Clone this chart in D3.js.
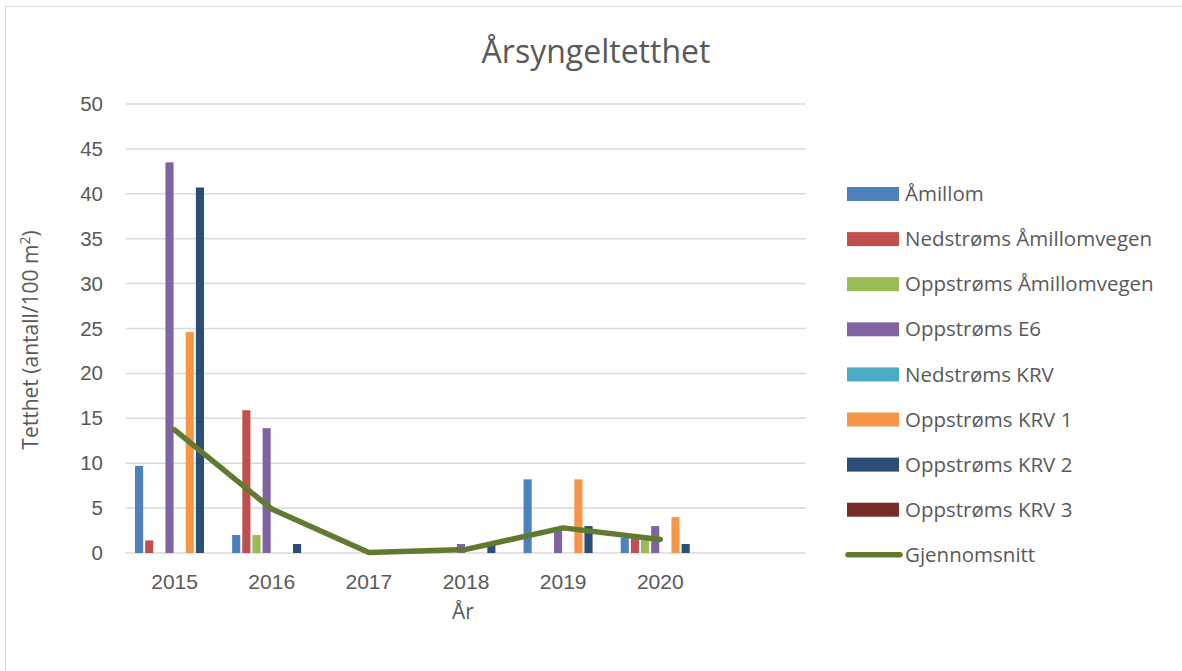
<!DOCTYPE html>
<html>
<head>
<meta charset="utf-8">
<script src="https://cdn.jsdelivr.net/npm/d3@7"></script>
<style>
  body { margin: 0; background: #fff; }
  svg { font-family: "Open Sans", "Noto Sans", sans-serif; }
</style>
</head>
<body>
<div id="chart"></div>
<script>
// categories (the last one is empty in the original chart)
var years = ["2015", "2016", "2017", "2018", "2019", "2020", ""];
var seriesNames = ["Åmillom", "Nedstrøms Åmillomvegen", "Oppstrøms Åmillomvegen", "Oppstrøms E6",
  "Nedstrøms KRV", "Oppstrøms KRV 1", "Oppstrøms KRV 2", "Oppstrøms KRV 3"];
var seriesColors = ["#4f81bd", "#c0504d", "#9bbb59", "#8064a2", "#4bacc6", "#f79646", "#2c4d75", "#772c2a"];

// values per series, one per year 2015..2020
var amillom      = [9.7, 2.0, 0, 0, 8.2, 1.7];
var nedAmVeg     = [1.4, 15.9, 0, 0, 0, 1.7];
var oppAmVeg     = [0, 2.0, 0, 0, 0, 1.7];
var oppE6        = [43.5, 13.9, 0, 1.0, 2.6, 3.0];
var nedKRV       = [0, 0, 0, 0, 0, 0];
var oppKRV1      = [24.6, 0, 0, 0, 8.2, 4.0];
var oppKRV2      = [40.7, 1.0, 0, 1.0, 3.0, 1.0];
var oppKRV3      = [0, 0, 0, 0, 0, 0];
var gjennomsnitt = [13.7, 4.9, 0.05, 0.4, 2.8, 1.5];

var yTicks = [0, 5, 10, 15, 20, 25, 30, 35, 40, 45, 50];

var allSeries = [amillom, nedAmVeg, oppAmVeg, oppE6, nedKRV, oppKRV1, oppKRV2, oppKRV3];
var textColor = "#595959";

var W = 1182, H = 671;
var svg = d3.select("#chart").append("svg").attr("width", W).attr("height", H);

// outer chart border
svg.append("rect").attr("x", 5.5).attr("y", 6.5).attr("width", W).attr("height", H)
  .attr("fill", "none").attr("stroke", "#d9d9d9").attr("stroke-width", 1);

var x = d3.scaleBand().domain(years).range([126, 806]).padding(0);
var xInner = d3.scaleBand().domain(d3.range(8)).range([9, x.bandwidth() - 9]).paddingInner(0.2);
var y = d3.scaleLinear().domain([0, 50]).range([553, 104]);

// gridlines
svg.append("g").selectAll("line").data(yTicks).join("line")
  .attr("x1", 126).attr("x2", 806)
  .attr("y1", function(d) { return y(d); }).attr("y2", function(d) { return y(d); })
  .attr("stroke", "#d9d9d9").attr("stroke-width", 1.5);

// y axis
var yAxis = svg.append("g").attr("transform", "translate(126,0)")
  .call(d3.axisLeft(y).tickValues(yTicks).tickSize(0).tickPadding(23));
yAxis.select(".domain").remove();
yAxis.selectAll("text").attr("fill", textColor).style("font-size", "20.5px");

// x axis
var xAxis = svg.append("g").attr("transform", "translate(0,553)")
  .call(d3.axisBottom(x).tickSize(0).tickPadding(21));
xAxis.select(".domain").remove();
xAxis.selectAll("text").attr("fill", textColor).style("font-size", "21px");

// bars
allSeries.forEach(function(vals, si) {
  svg.append("g").selectAll("rect").data(vals).join("rect")
    .attr("x", function(d, i) { return x(years[i]) + xInner(si); })
    .attr("width", xInner.bandwidth())
    .attr("y", function(d) { return y(d); })
    .attr("height", function(d) { return y(0) - y(d); })
    .attr("fill", seriesColors[si]);
});

// average line
var line = d3.line()
  .x(function(d, i) { return x(years[i]) + x.bandwidth() / 2; })
  .y(function(d) { return y(d); });
svg.append("path").datum(gjennomsnitt)
  .attr("d", line).attr("fill", "none")
  .attr("stroke", "#617a30").attr("stroke-width", 5.5)
  .attr("stroke-linejoin", "round").attr("stroke-linecap", "round");

// title
svg.append("text").attr("x", 596).attr("y", 63).attr("text-anchor", "middle")
  .attr("fill", textColor).style("font-size", "32px").text("Årsyngeltetthet");

// axis titles
svg.append("text").attr("x", 463).attr("y", 619).attr("text-anchor", "middle")
  .attr("fill", textColor).style("font-size", "21px").text("År");
var yt = svg.append("text").attr("transform", "translate(38,340) rotate(-90)")
  .attr("text-anchor", "middle").attr("fill", textColor).style("font-size", "21px");
yt.append("tspan").text("Tetthet (antall/100 m");
yt.append("tspan").attr("dy", -8).style("font-size", "14px").text("2");
yt.append("tspan").attr("dy", 8).text(")");

// legend
var legendNames = seriesNames.concat(["Gjennomsnitt"]);
var leg = svg.append("g").selectAll("g").data(legendNames).join("g")
  .attr("transform", function(d, i) { return "translate(847," + (194 + i * 45.1) + ")"; });
leg.each(function(d, i) {
  var g = d3.select(this);
  if (i < 8) {
    g.append("rect").attr("x", 0).attr("y", -7).attr("width", 52).attr("height", 14)
      .attr("fill", seriesColors[i]);
  } else {
    g.append("line").attr("x1", 1).attr("x2", 53).attr("y1", 0).attr("y2", 0)
      .attr("stroke", "#617a30").attr("stroke-width", 5.5).attr("stroke-linecap", "round");
  }
  g.append("text").attr("x", 58).attr("y", 0).attr("dy", "0.35em")
    .attr("fill", textColor).style("font-size", "20.5px").text(d);
});
</script>
</body>
</html>
